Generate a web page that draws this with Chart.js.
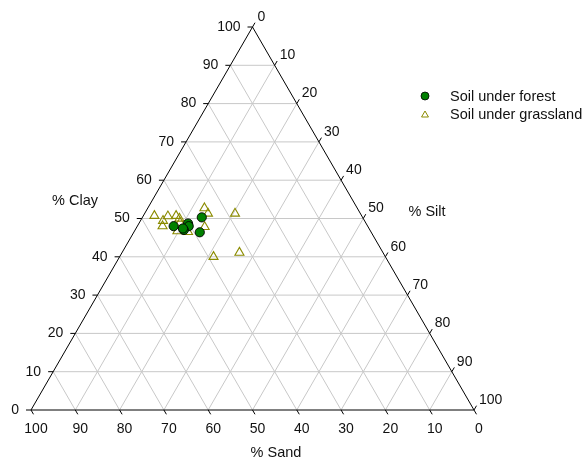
<!DOCTYPE html>
<html>
<head>
<meta charset="utf-8">
<script src="https://cdn.jsdelivr.net/npm/chart.js@4.4.1/dist/chart.umd.min.js"></script>
<style>
  body { margin: 0; background: #fff; }
  #wrap { width: 585px; height: 460px; }
</style>
</head>
<body>
<div id="wrap"><canvas id="ternary" width="585" height="460"></canvas></div>
<script>
// Tick values shared by all three sides
const ticks = [0, 10, 20, 30, 40, 50, 60, 70, 80, 90, 100];

// Soil under forest (percent)
const forestClay = [48.0, 48.7, 48.0, 47.0, 47.4, 50.3, 46.4];
const forestSilt = [8.2, 11.1, 11.6, 11.0, 10.6, 13.4, 14.9];
const forestSand = [43.8, 40.2, 40.4, 42.0, 42.0, 36.3, 38.7];

// Soil under grassland (percent)
const grassClay = [50.7, 49.4, 48.0, 50.6, 50.7, 50.0, 48.9, 46.7, 46.5, 52.7, 51.3, 47.8, 51.3, 40.0, 41.1];
const grassSilt = [2.5, 5.1, 5.7, 5.6, 7.4, 8.5, 9.2, 9.7, 12.2, 12.8, 14.3, 15.3, 20.4, 21.2, 26.5];
const grassSand = [46.8, 45.5, 46.3, 43.8, 41.9, 41.5, 41.9, 43.6, 41.3, 34.5, 34.4, 36.9, 28.3, 38.8, 32.4];

const seriesNames = ['Soil under forest', 'Soil under grassland'];
const axisTitles = ['% Clay', '% Silt', '% Sand'];

const H = Math.sqrt(3) / 2;
const FONT = '14px "Liberation Sans", Arial, sans-serif';
const FONT_L = '14.5px "Liberation Sans", Arial, sans-serif';

// clay/silt/sand -> cartesian (sand is implied by the other two)
function toXY(clay, silt) {
  return { x: silt + clay / 2, y: clay * H };
}
function points(clay, silt, sand) {
  return clay.map((c, i) => toXY(c, silt[i]));
}

// Grid, axes, ticks, labels and legend
const ternaryFrame = {
  id: 'ternaryFrame',
  beforeDatasetsDraw(chart) {
    const ctx = chart.ctx;
    const xs = chart.scales.x, ys = chart.scales.y;
    const P = (clay, silt) => {
      const p = toXY(clay, silt);
      return [xs.getPixelForValue(p.x), ys.getPixelForValue(p.y)];
    };
    const line = (a, b) => {
      ctx.beginPath(); ctx.moveTo(a[0], a[1]); ctx.lineTo(b[0], b[1]); ctx.stroke();
    };
    ctx.save();
    // grid
    ctx.strokeStyle = '#c8c8c8';
    ctx.lineWidth = 1;
    ticks.slice(1, -1).forEach(k => {
      line(P(k, 0), P(k, 100 - k));          // clay constant
      line(P(0, k), P(100 - k, k));          // silt constant
      line(P(0, 100 - k), P(100 - k, 0));    // sand = k constant
    });
    // triangle
    ctx.strokeStyle = '#000';
    const A = P(0, 0), B = P(0, 100), C = P(100, 0);
    line(A, B); line(A, C); line(C, B);
    // ticks + labels
    ctx.font = FONT;
    ctx.fillStyle = '#111';
    ticks.forEach(k => {
      // clay (left side)
      let p = P(k, 0);
      line(p, [p[0] - 5, p[1]]);
      ctx.textAlign = 'right'; ctx.textBaseline = 'middle';
      ctx.fillText(String(k), p[0] - 12, p[1]);
      // sand (bottom), value k at silt = 100 - k
      p = P(0, 100 - k);
      line(p, [p[0] + 2.5, p[1] + 4.3]);
      ctx.textAlign = 'center'; ctx.textBaseline = 'middle';
      ctx.fillText(String(k), p[0] + 5, p[1] + 19);
      // silt (right side)
      p = P(100 - k, k);
      line(p, [p[0] + 2.5, p[1] - 4.3]);
      ctx.textAlign = 'left'; ctx.textBaseline = 'middle';
      ctx.fillText(String(k), p[0] + 5, p[1] - 10);
    });
    // axis titles
    ctx.font = FONT_L;
    ctx.textAlign = 'center';
    ctx.fillText(axisTitles[0], 75, 201);
    ctx.fillText(axisTitles[1], 427, 212);
    ctx.fillText(axisTitles[2], 276, 453);
    ctx.restore();
  },
  afterDraw(chart) {
    const ctx = chart.ctx;
    ctx.save();
    // legend
    ctx.beginPath();
    ctx.arc(425, 96, 4, 0, Math.PI * 2);
    ctx.fillStyle = '#008000'; ctx.fill();
    ctx.strokeStyle = '#000'; ctx.lineWidth = 0.8; ctx.stroke();
    ctx.beginPath();
    const r = 4, cx = 425, cy = 115;
    for (let i = 0; i < 3; i++) {
      const a = i * 2 * Math.PI / 3;
      const x = cx + Math.sin(a) * r, y = cy - Math.cos(a) * r;
      i ? ctx.lineTo(x, y) : ctx.moveTo(x, y);
    }
    ctx.closePath();
    ctx.strokeStyle = '#8b8b00'; ctx.lineWidth = 1; ctx.stroke();
    ctx.font = FONT_L;
    ctx.fillStyle = '#111';
    ctx.textAlign = 'left'; ctx.textBaseline = 'middle';
    ctx.fillText(seriesNames[0], 450, 97);
    ctx.fillText(seriesNames[1], 450, 115);
    ctx.restore();
  }
};

new Chart(document.getElementById('ternary').getContext('2d'), {
  type: 'scatter',
  data: {
    datasets: [
      {
        label: seriesNames[1],
        data: points(grassClay, grassSilt, grassSand),
        pointStyle: 'triangle',
        pointRadius: 5.2,
        backgroundColor: 'rgba(0,0,0,0)',
        borderColor: '#8b8b00',
        borderWidth: 1.1,
        order: 2
      },
      {
        label: seriesNames[0],
        data: points(forestClay, forestSilt, forestSand),
        pointStyle: 'circle',
        pointRadius: 4.6,
        backgroundColor: '#008000',
        borderColor: '#000',
        borderWidth: 0.9,
        order: 1
      }
    ]
  },
  options: {
    responsive: false,
    animation: false,
    layout: { padding: { left: 31, right: 111, top: 27, bottom: 50 } },
    plugins: { legend: { display: false }, tooltip: { enabled: false } },
    scales: {
      x: { type: 'linear', min: 0, max: 100, display: false },
      y: { type: 'linear', min: 0, max: 100 * H, display: false }
    }
  },
  plugins: [ternaryFrame]
});
</script>
</body>
</html>
